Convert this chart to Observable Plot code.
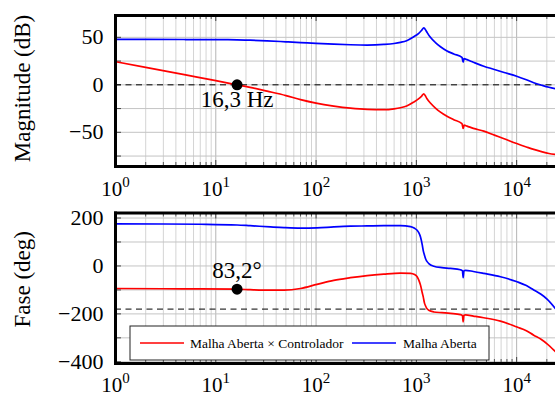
<!DOCTYPE html>
<html>
<head>
<meta charset="utf-8">
<script src="https://cdn.jsdelivr.net/npm/d3@7"></script>
<script src="https://cdn.jsdelivr.net/npm/@observablehq/plot@0.6"></script>
<style>
  html, body { margin: 0; padding: 0; background: white; overflow: hidden; }
  #chart { width: 555px; line-height: 0; }
  #chart svg { display: block; }
</style>
</head>
<body>
<div id="chart"></div>
<script>
// ---------- data ----------
const seriesNames = ["Malha Aberta × Controlador", "Malha Aberta"];
const seriesColors = ["#ff0000", "#0000ff"];

// Magnitude panel
const magFreq = [1, 2, 5, 10, 16.3, 22, 32.5, 50, 70, 100, 150, 220, 323, 473, 600, 695, 800, 940, 1050, 1130, 1186, 1250, 1282, 1380, 1550, 1740, 2000, 2360, 2850, 2930, 2990, 3200, 3700, 4700, 6000, 7500, 10000, 12500, 14800, 18000, 21000, 24400];
const magOpen = [47.8, 47.8, 47.7, 47.6, 47.4, 47.0, 46.3, 45.3, 44.5, 43.6, 42.8, 42.2, 41.9, 42.5, 43.5, 44.7, 46.5, 50.6, 54.0, 57.5, 60.0, 57.0, 55.0, 50.0, 44.5, 40.1, 36.0, 32.5, 28.8, 24.0, 27.6, 26.5, 23.8, 19.6, 16.2, 13.0, 9.0, 5.3, 2.2, -0.6, -2.6, -4.2];
const magCtrl = [24.4, 18.4, 10.4, 4.4, 0.0, -2.7, -6.7, -11.3, -15.6, -19.3, -22.4, -24.6, -25.9, -26.2, -25.3, -24.1, -22.3, -18.2, -14.8, -11.8, -9.5, -13.0, -15.0, -19.2, -24.5, -28.7, -32.8, -36.7, -40.9, -46.0, -42.5, -43.5, -45.8, -48.8, -53.0, -56.8, -61.8, -65.4, -68.0, -70.6, -72.3, -73.4];

// Phase panel
const phaseFreq = [1, 3, 7, 16.3, 22, 35, 48, 70, 102, 150, 220, 323, 473, 695, 874, 960, 1018, 1060, 1100, 1145, 1170, 1205, 1233, 1270, 1331, 1493, 1800, 2188, 2750, 2880, 2930, 2980, 3090, 3700, 4700, 6890, 10100, 12500, 14800, 17500, 20100, 24400];
const phaseOpen = [176, 175, 174, 171, 168, 163, 160, 158, 159, 163, 166, 167, 168, 168, 164, 157, 149, 138, 121, 88, 65, 45, 31, 20, 10, -1, -7, -10, -16, -20, -49, -20, -18, -23, -31, -45, -66, -82, -100, -118, -138, -178];
const phaseCtrl = [-94, -95, -96, -97, -99, -101, -101, -94, -77, -60, -49, -40, -34, -30, -31, -36, -45, -60, -80, -112, -128, -155, -166, -177, -185, -192, -195, -198, -203, -207, -233, -206, -204, -209, -216, -230, -255, -270, -289, -306, -325, -358];

// Crossover annotation
const crossFreq = [16.3];
const crossMag = [0];
const crossPhase = [-97];
const crossMagLabel = ["16,3 Hz"];
const crossPhaseLabel = ["83,2°"];

// Axes
const xDomain = [1, 24400];
const xTicks = [1, 10, 100, 1000, 10000];
const magDomain = [-86, 73];
const magTicks = [-50, 0, 50];
const magGrid = [-75, -50, -25, 0, 25, 50];
const phaseDomain = [-407, 221];
const phaseTicks = [-400, -200, 0, 200];
const phaseGrid = [-400, -300, -200, -100, 0, 100, 200];
const magRef = [0];
const phaseRef = [-180];
const magTitle = ["Magnitude (dB)"];
const phaseTitle = ["Fase (deg)"];

// ---------- build tables ----------
const minorX = [];
for (const d of xTicks) for (let k = 2; k <= 9; k++) if (d * k < xDomain[1]) minorX.push(d * k);

function table(freq, a, b) {
  const out = [];
  freq.forEach((f, i) => out.push({f, v: a[i], s: seriesNames[0]}));
  freq.forEach((f, i) => out.push({f, v: b[i], s: seriesNames[1]}));
  return out;
}
const magData = table(magFreq, magCtrl, magOpen);
const phaseData = table(phaseFreq, phaseCtrl, phaseOpen);
const cross = crossFreq.map((f, i) => ({f, mag: crossMag[i], phase: crossPhase[i], ml: crossMagLabel[i], pl: crossPhaseLabel[i]}));

const FONT = "'Liberation Serif', 'Times New Roman', Times, serif";
const W = 555, ML = 115, MR = 0;

function panel({height, mt, mb, yDomain, yTicks, yGrid, ref, data, labelKey, labelDy, yKey, title, titleDy, xPad}) {
  const ph = height - mt - mb;
  const pw = W - ML - MR;
  return Plot.plot({
    width: W, height, marginLeft: ML, marginRight: MR, marginTop: mt, marginBottom: mb,
    x: {type: "log", domain: xDomain},
    y: {domain: yDomain},
    color: {domain: seriesNames, range: seriesColors},
    style: {fontFamily: FONT, fontSize: "21px", background: "white", color: "black", overflow: "visible"},
    marks: [
      Plot.ruleX(minorX, {x: d => d, stroke: "#d4d4d4", strokeWidth: 1}),
      Plot.ruleX(xTicks, {x: d => d, stroke: "#b4b4b4", strokeWidth: 1}),
      Plot.ruleY(yGrid, {y: d => d, stroke: "#c4c4c4", strokeWidth: 1}),
      // inward ticks
      Plot.tickX(minorX, {x: d => d, insetTop: ph - 4, stroke: "#555"}),
      Plot.tickX(minorX, {x: d => d, insetBottom: ph - 4, stroke: "#555"}),
      Plot.tickX(xTicks, {x: d => d, insetTop: ph - 6, stroke: "#444"}),
      Plot.tickX(xTicks, {x: d => d, insetBottom: ph - 6, stroke: "#444"}),
      Plot.tickY(yGrid, {y: d => d, insetRight: pw - 6, stroke: "#444"}),
      Plot.ruleY(ref, {y: d => d, stroke: "black", strokeWidth: 1, strokeDasharray: "6,4.5"}),
      Plot.line(data, {x: "f", y: "v", stroke: "s", z: "s", curve: "monotone-x", strokeWidth: 1.7}),
      Plot.dot(cross, {x: "f", y: yKey, r: 5.5, fill: "black", stroke: "none"}),
      Plot.text(cross, {x: "f", y: yKey, text: labelKey, dy: labelDy, fontSize: 23, fontFamily: FONT, textAnchor: "middle", lineAnchor: "middle", fill: "black"}),
      Plot.frame({anchor: "top", stroke: "black", strokeWidth: 3, strokeLinecap: "square"}),
      Plot.frame({anchor: "bottom", stroke: "black", strokeWidth: 3, strokeLinecap: "square"}),
      Plot.frame({anchor: "left", stroke: "black", strokeWidth: 3, strokeLinecap: "square"}),
      Plot.axisX({ticks: xTicks, tickFormat: d => "10^" + Math.round(Math.log10(d)), tickSize: 0, tickPadding: xPad, label: null, fontSize: 21, fontFamily: FONT}),
      Plot.axisY({ticks: yTicks, tickFormat: d => (d < 0 ? "\u2212" + Math.abs(d) : String(d)), tickSize: 0, tickPadding: 12, label: null, fontSize: 22, fontFamily: FONT}),
      Plot.text(title, {text: d => d, frameAnchor: "left", dx: -93, dy: titleDy, rotate: -90, textAnchor: "middle", lineAnchor: "middle", fontSize: 23, fontFamily: FONT, fill: "black"})
    ]
  });
}

const topPanel = panel({height: 200, mt: 15, mb: 34, yDomain: magDomain, yTicks: magTicks, yGrid: magGrid, ref: magRef, data: magData, labelKey: "ml", labelDy: 15, yKey: "mag", title: magTitle, titleDy: -2.5, xPad: 15});
const botPanel = panel({height: 203, mt: 12.5, mb: 40, yDomain: phaseDomain, yTicks: phaseTicks, yGrid: phaseGrid, ref: phaseRef, data: phaseData, labelKey: "pl", labelDy: -18.5, yKey: "phase", title: phaseTitle, titleDy: -9, xPad: 13.5});

// superscript exponents on x tick labels
for (const svg of [topPanel, botPanel]) {
  svg.querySelectorAll('g[aria-label="x-axis tick label"] text').forEach(t => {
    const s = t.textContent;
    const [base, exp] = s.split("^");
    t.textContent = "";
    const ns = "http://www.w3.org/2000/svg";
    const b = document.createElementNS(ns, "tspan"); b.textContent = base; t.appendChild(b);
    const e = document.createElementNS(ns, "tspan"); e.textContent = exp;
    e.setAttribute("font-size", "15px"); e.setAttribute("dy", "-0.6em"); t.appendChild(e);
  });
}

// legend inside the phase panel
{
  const svg = d3.select(botPanel);
  const g = svg.append("g").attr("font-family", FONT).attr("font-size", 13.5).attr("text-anchor", "start");
  const lx = 130, ly = 126, lw = 359, lh = 34;
  g.append("rect").attr("x", lx).attr("y", ly).attr("width", lw).attr("height", lh)
    .attr("fill", "white").attr("stroke", "#222").attr("stroke-width", 1);
  const items = [{x: 140, tx: 190}, {x: 352, tx: 403}];
  items.forEach((it, i) => {
    g.append("line").attr("x1", it.x).attr("x2", it.x + 44).attr("y1", ly + lh / 2).attr("y2", ly + lh / 2)
      .attr("stroke", seriesColors[i]).attr("stroke-width", 1.7);
    g.append("text").attr("x", it.tx).attr("y", ly + lh / 2).attr("dy", "0.35em").attr("fill", "black").text(seriesNames[i]);
  });
}

document.getElementById("chart").append(topPanel, botPanel);
</script>
</body>
</html>
